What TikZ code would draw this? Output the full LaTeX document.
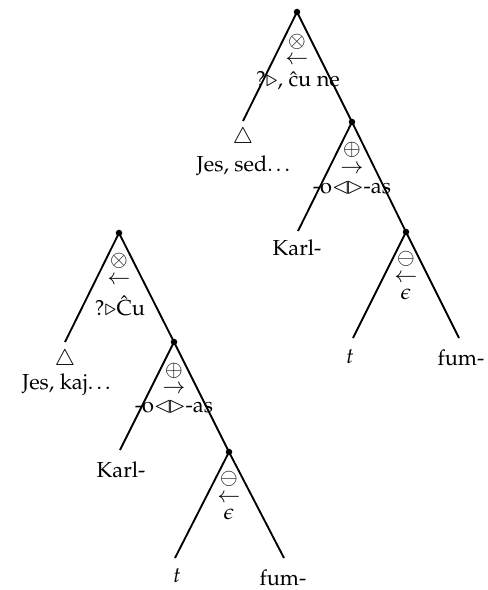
\documentclass[tikz,border=0pt]{standalone}
\usepackage[T1]{fontenc}
\usepackage{mathpazo}
\usepackage{amssymb}
\begin{document}
\begin{tikzpicture}[x=0.46pt,y=-0.46pt,
  branch/.style={line width=0.85pt},
  knot/.style={circle,fill=black,inner sep=0pt,minimum size=3pt},
  lbl/.style={inner sep=0pt,anchor=center}]
\useasboundingbox (0,0) rectangle (488,590);

% ---------- top tree ----------
\node[knot] (A0) at (297,12) {};
\coordinate (A0l) at (243,121);
\node[knot] (A1) at (352,122) {};
\coordinate (A1l) at (298,231);
\node[knot] (A2) at (406,232) {};
\coordinate (A2l) at (353,338);
\coordinate (A2r) at (459,338);
\draw[branch] (A0l) -- (A0.center) -- (A1.center) -- (A2.center) -- (A2r);
\draw[branch] (A1.center) -- (A1l);
\draw[branch] (A2.center) -- (A2l);

\node[lbl] (a0op) at (297,42) {$\otimes$};
\node[lbl] (a0ar) at (297,60) {$\leftarrow$};
\node[lbl] (a0tx) at (298,81) {?$\triangleright$, \^cu ne};
\node[lbl] (a0tri) at (243,138) {$\triangle$};
\node[lbl] (a0leaf) at (245,166) {Jes, sed\dots};

\node[lbl] (a1op) at (352,150) {$\oplus$};
\node[lbl] (a1ar) at (352,169) {$\rightarrow$};
\node[lbl] (a1tx) at (352,188) {-o$\lhd\mkern-3mu\rhd$-as};
\node[lbl] (a1leaf) at (297,248) {Karl-};

\node[lbl] (a2op) at (406,259) {$\ominus$};
\node[lbl] (a2ar) at (406,278) {$\leftarrow$};
\node[lbl] (a2tx) at (406,294) {$\epsilon$};
\node[lbl] (a2t) at (350,357) {$t$};
\node[lbl] (a2f) at (461,358) {fum-};

% ---------- bottom tree ----------
\node[knot] (B0) at (119,233) {};
\coordinate (B0l) at (65,342);
\node[knot] (B1) at (174,342) {};
\coordinate (B1l) at (120,450);
\node[knot] (B2) at (229,452) {};
\coordinate (B2l) at (175,558);
\coordinate (B2r) at (284,558);
\draw[branch] (B0l) -- (B0.center) -- (B1.center) -- (B2.center) -- (B2r);
\draw[branch] (B1.center) -- (B1l);
\draw[branch] (B2.center) -- (B2l);

\node[lbl] (b0op) at (119,261) {$\otimes$};
\node[lbl] (b0ar) at (119,280) {$\leftarrow$};
\node[lbl] (b0tx) at (120,306) {?$\triangleright$\^Cu};
\node[lbl] (b0tri) at (65,360) {$\triangle$};
\node[lbl] (b0leaf) at (68,385) {Jes, kaj\dots};

\node[lbl] (b1op) at (174,371) {$\oplus$};
\node[lbl] (b1ar) at (174,389) {$\rightarrow$};
\node[lbl] (b1tx) at (174,407) {-o$\lhd\mkern-3mu\rhd$-as};
\node[lbl] (b1leaf) at (121,470) {Karl-};

\node[lbl] (b2op) at (229,479) {$\ominus$};
\node[lbl] (b2ar) at (229,498) {$\leftarrow$};
\node[lbl] (b2tx) at (229,514) {$\epsilon$};
\node[lbl] (b2t) at (177,576) {$t$};
\node[lbl] (b2f) at (283,578) {fum-};
\end{tikzpicture}
\end{document}
